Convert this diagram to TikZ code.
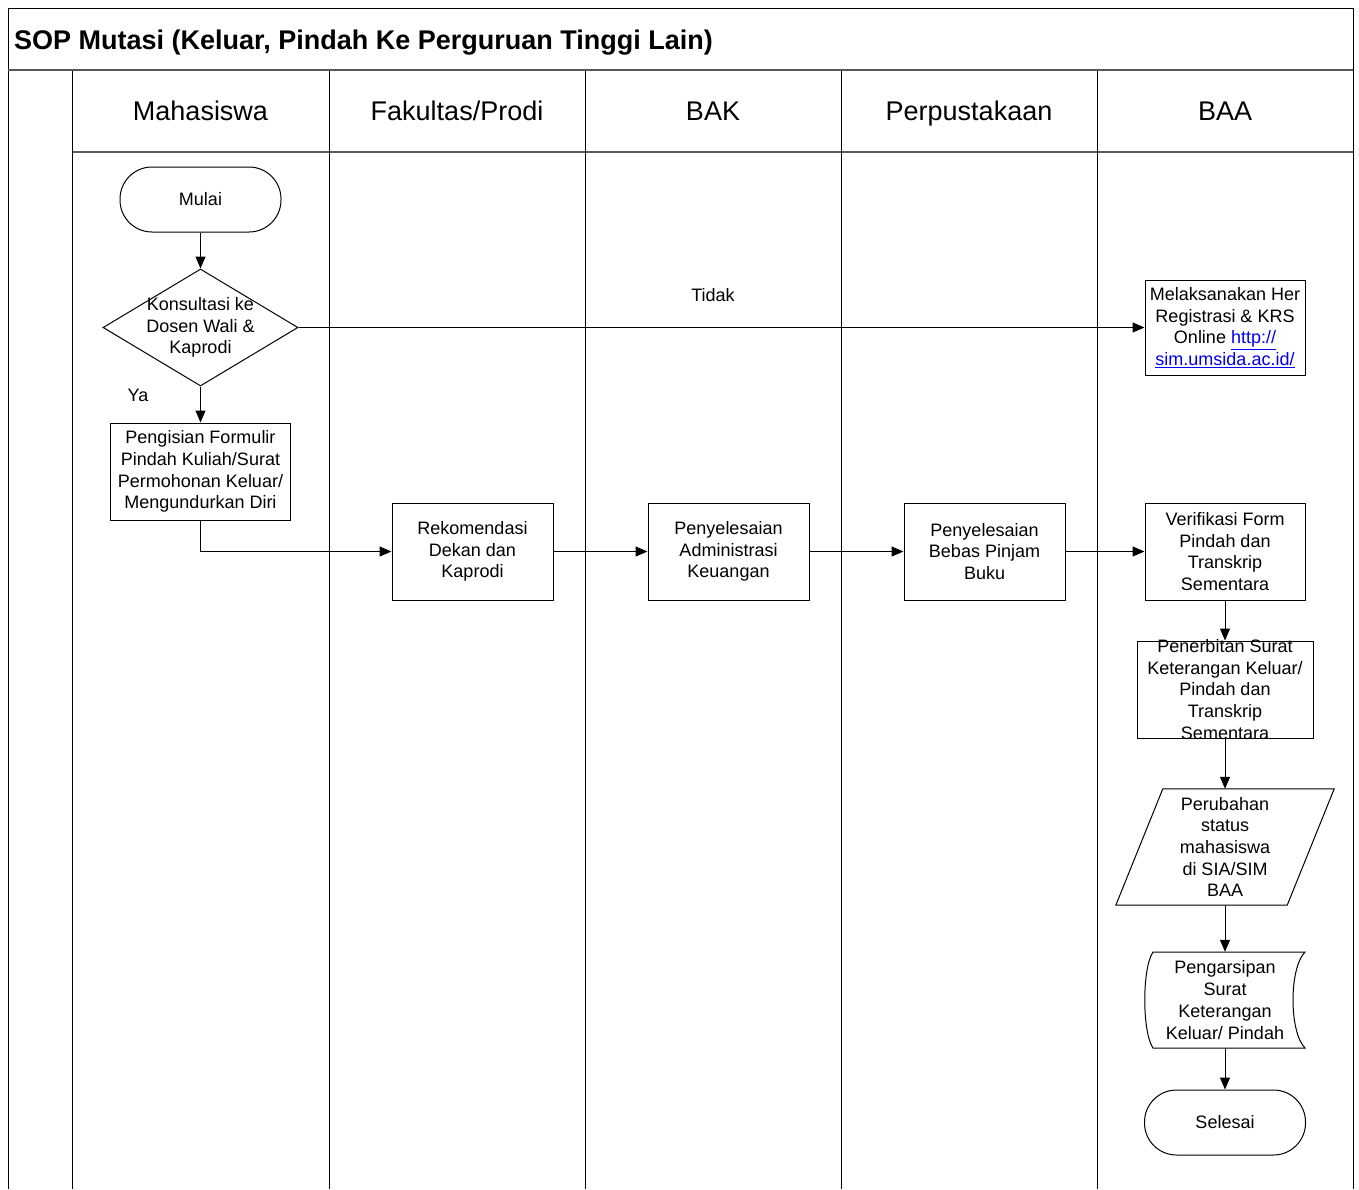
\documentclass[tikz,border=0pt]{standalone}
\usepackage{fontspec}
\setmainfont{Liberation Sans}
\usetikzlibrary{arrows.meta,shapes.geometric}
\definecolor{linkblue}{RGB}{0,0,238}
\tikzset{
  txt/.style={font=\fontsize{18}{21.7}\selectfont, align=center, inner sep=0pt},
  procbox/.style={txt, draw=black, line width=1pt, fill=white, minimum width=#1, minimum height=97},
  procbox/.default=161,
  termbox/.style={txt, draw=black, line width=1pt, fill=white, rounded corners=32, minimum width=161, minimum height=65},
  hdr/.style={font=\fontsize{27}{30}\selectfont, inner sep=0pt, anchor=base},
  flow/.style={line width=1pt, -{Triangle[length=12,width=10]}},
  lane/.style={line width=1pt, black},
  sep/.style={line width=2.5pt, black!65},
}
\begin{document}
\begin{tikzpicture}[x=1pt,y=-1pt]
\useasboundingbox (0,0) rectangle (1359,1189);
% frame
\draw[lane] (8,1189) -- (8,8) -- (1353,8) -- (1353,1189);
\draw[sep] (8,70) -- (1353,70);
\draw[sep] (72,152) -- (1353,152);
\foreach \x in {72,329,585,841,1097} \draw[lane] (\x,71) -- (\x,1189);
\node[anchor=base west, font=\fontsize{27}{30}\selectfont\bfseries, inner sep=0pt] (title) at (14,49) {SOP Mutasi (Keluar, Pindah Ke Perguruan Tinggi Lain)};
\node[hdr] (h1) at (200.5,120.5) {Mahasiswa};
\node[hdr] (h2) at (457,120.5) {Fakultas/Prodi};
\node[hdr] (h3) at (713,120.5) {BAK};
\node[hdr] (h4) at (969,120.5) {Perpustakaan};
\node[hdr] (h5) at (1225,120.5) {BAA};
% nodes
\node[termbox] (mulai) at (200.5,199.5) {Mulai};
\node[draw=black, line width=1pt, fill=white, shape=diamond, minimum width=195, minimum height=117, inner sep=0pt] (dec) at (200.5,327.5) {};
\node[txt] (dectxt) at (200.5,327.5) {Konsultasi ke\\Dosen Wali \&\\Kaprodi};
\node[procbox=180] (peng) at (200.5,471.5) {Pengisian Formulir\\Pindah Kuliah/Surat\\Permohonan Keluar/\\Mengundurkan Diri};
\node[procbox] (rek) at (472.5,551.5) {Rekomendasi\\Dekan dan\\Kaprodi};
\node[procbox] (adm) at (728.5,551.5) {Penyelesaian\\Administrasi\\Keuangan};
\node[procbox] (buku) at (984.5,551.5) {Penyelesaian\\Bebas Pinjam\\Buku};
\node[procbox=160] (ver) at (1225,551.5) {Verifikasi Form\\Pindah dan\\Transkrip\\Sementara};
\node[procbox=160, minimum height=95] (her) at (1225,327.5) {Melaksanakan Her\\Registrasi \& KRS\\Online \textcolor{linkblue}{\underline{http://}}\\\textcolor{linkblue}{\underline{sim.umsida.ac.id/}}};
\node[procbox=176] (terbit) at (1225,689.5) {};
\node[txt] (terbittxt) at (1225,689.5) {Penerbitan Surat\\Keterangan Keluar/\\Pindah dan\\Transkrip\\Sementara};
% parallelogram
\node[txt, minimum width=171, minimum height=116] (perub) at (1225,847) {};
\draw[line width=1pt, fill=white] ([xshift=23.5]perub.north west) -- ([xshift=23.5]perub.north east) -- ([xshift=-23.5]perub.south east) -- ([xshift=-23.5]perub.south west) -- cycle;
\node[txt] (perubtxt) at (perub) {Perubahan\\status\\mahasiswa\\di SIA/SIM\\BAA};
% stored data
\node[txt, minimum width=160, minimum height=96] (arsip) at (1225,1000) {};
\draw[line width=1pt, fill=white] (1153,952) -- (1305,952) .. controls (1289,968) and (1289,1032) .. (1305,1048) -- (1153,1048) .. controls (1142,1032) and (1142,968) .. (1153,952) -- cycle;
\node[txt] (arsiptxt) at (arsip) {Pengarsipan\\Surat\\Keterangan\\Keluar/ Pindah};
\node[termbox] (selesai) at (1225,1122.5) {Selesai};
% labels
\node[txt] (ya) at (138,395) {Ya};
\node[txt] (tidak) at (713,295) {Tidak};
% connectors
\draw[flow] (mulai) -- (dec);
\draw[flow] (dec) -- (peng);
\draw[flow] (dec.east) -- (her.west);
\draw[flow] (peng.south) |- (rek.west);
\draw[flow] (rek) -- (adm);
\draw[flow] (adm) -- (buku);
\draw[flow] (buku) -- (ver);
\draw[flow] (ver) -- (terbit);
\draw[flow] (terbit.south) -- (perub.north);
\draw[flow] (perub.south) -- (arsip.north);
\draw[flow] (arsip.south) -- (selesai);
\end{tikzpicture}
\end{document}
